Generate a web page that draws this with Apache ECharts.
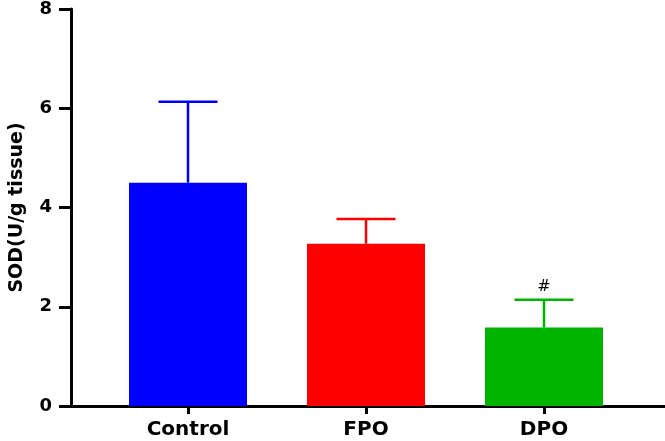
<!DOCTYPE html>
<html><head><meta charset="utf-8">
<script src="https://cdn.jsdelivr.net/npm/echarts@6/dist/echarts.min.js"></script>
<style>html,body{margin:0;padding:0;background:#fff}#c{width:665px;height:441px}</style>
</head><body><div id="c"></div>
<script>
const categories = ['Control', 'FPO', 'DPO'];
const means = [4.5, 3.27, 1.58];
const upper = [6.13, 3.77, 2.14];
const marks = ['', '', '#'];
const colors = ['#0000FF', '#FF0000', '#00B400'];
const yTicks = [0, 2, 4, 6, 8];

const chart = echarts.init(document.getElementById('c'));
const font = 'DejaVu Sans, Liberation Sans, sans-serif';
chart.setOption({
  animation: false,
  grid: [
    {left: 99, right: 32, top: 9, bottom: 35},
    {left: 70, right: 0, top: 9, bottom: 35}
  ],
  xAxis: [
    {type: 'category', data: categories, gridIndex: 0,
     axisLine: {show: false},
     axisTick: {show: true, alignWithLabel: true, length: 8, lineStyle: {color: '#000', width: 3}},
     axisLabel: {color: '#000', fontWeight: 'bold', fontSize: 20, fontFamily: font, margin: 14}},
    {type: 'value', gridIndex: 1, min: 0, max: 1,
     axisLine: {show: true, onZero: false, lineStyle: {color: '#000', width: 3}},
     axisTick: {show: false}, axisLabel: {show: false}, splitLine: {show: false}}
  ],
  yAxis: [
    {type: 'value', gridIndex: 0, min: 0, max: 8, interval: 2, show: false, splitLine: {show: false}},
    {type: 'value', gridIndex: 1, min: 0, max: 8, interval: 2,
     name: 'SOD(U/g tissue)', nameLocation: 'middle', nameGap: 44,
     nameTextStyle: {color: '#000', fontWeight: 'bold', fontSize: 19, fontFamily: font},
     axisLine: {show: true, lineStyle: {color: '#000', width: 3}},
     axisTick: {show: true, length: 12, lineStyle: {color: '#000', width: 3}},
     axisLabel: {color: '#000', fontWeight: 'bold', fontSize: 18, fontFamily: font, margin: 19,
       formatter: v => yTicks.includes(v) ? String(v) : ''},
     splitLine: {show: false}}
  ],
  series: [
    {type: 'bar', xAxisIndex: 0, yAxisIndex: 0, barWidth: 118,
     data: means.map((v, i) => ({value: v, itemStyle: {color: colors[i]}}))},
    {type: 'custom', xAxisIndex: 0, yAxisIndex: 0, z: 1,
     data: categories.map((c, i) => [i, means[i], upper[i]]),
     renderItem: function (params, api) {
       const i = api.value(0);
       const p0 = api.coord([i, api.value(1)]);
       const p1 = api.coord([i, api.value(2)]);
       const half = 29.5;
       const col = colors[i];
       const children = [
         {type: 'line', shape: {x1: p0[0], y1: p0[1], x2: p1[0], y2: p1[1]}, style: {stroke: col, lineWidth: 2.5}},
         {type: 'line', shape: {x1: p1[0] - half, y1: p1[1], x2: p1[0] + half, y2: p1[1]}, style: {stroke: col, lineWidth: 2.5}}
       ];
       if (marks[i]) {
         children.push({type: 'text', x: p1[0], y: p1[1] - 5,
           style: {text: marks[i], fill: '#000', fontSize: 16, fontFamily: font, align: 'center', verticalAlign: 'bottom'}});
       }
       return {type: 'group', children};
     }}
  ]
});
</script></body></html>
